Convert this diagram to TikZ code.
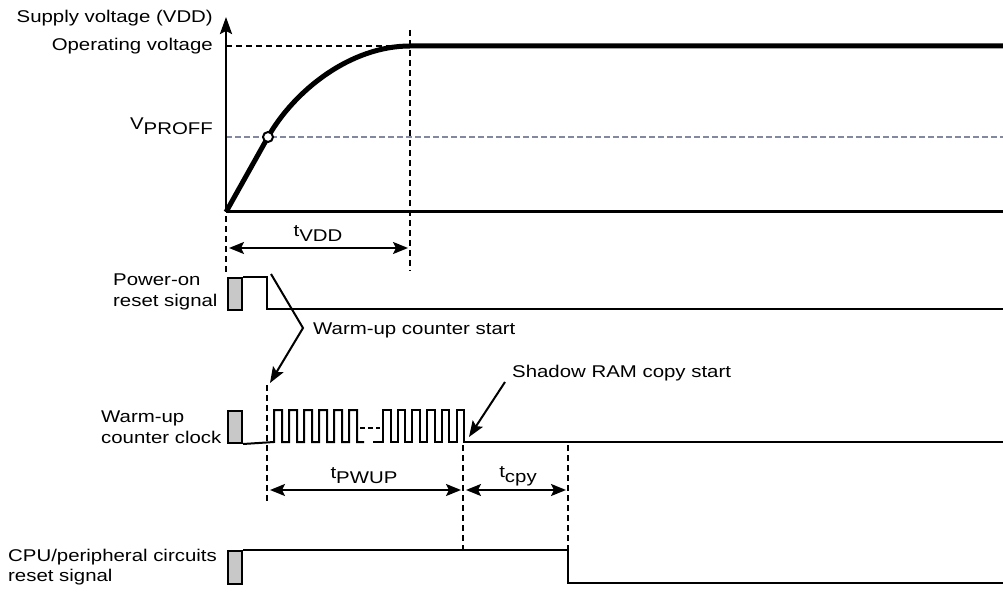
\documentclass[tikz,border=0pt]{standalone}
\usepackage{fontspec}
\setmainfont{Liberation Sans}[FakeStretch=1.2]
\usetikzlibrary{arrows.meta}
\definecolor{vprof}{RGB}{130,136,160}
\definecolor{boxgray}{RGB}{200,200,200}
\tikzset{
  lbl/.style={font=\fontsize{17pt}{20.5pt}\selectfont, inner sep=0pt},
  sig/.style={line width=2pt, line join=miter},
  gbox/.style={draw, line width=2pt, fill=boxgray},
  guide/.style={line width=1.8pt, dash pattern=on 6pt off 4pt},
  dim/.style={line width=2pt, {Stealth[length=15pt,width=12pt,inset=3pt]}-{Stealth[length=15pt,width=12pt,inset=3pt]}},
  callout/.style={line width=2pt, -{Stealth[length=16pt,width=12pt,inset=3pt]}},
}
\newcommand{\lowsub}[1]{\raisebox{-5pt}{#1}}
\begin{document}
\begin{tikzpicture}[x=1pt,y=-1pt]
\useasboundingbox (0,0) rectangle (1003,593);
% ---------- VDD plot ----------
\coordinate (O) at (226,212);
\coordinate (Ytop) at (226,17);
\coordinate (Xend) at (1003,212);
\coordinate (Vp) at (268,137);
\coordinate (Top) at (410,46);
\coordinate (TopEnd) at (1003,46);
\coordinate (OpL) at (226,46);
\coordinate (VpL) at (226,137);
\coordinate (VpR) at (1003,137);
\draw[guide, line width=1.5pt] (OpL) -- (Top);
\draw[vprof, line width=2.5pt, dash pattern=on 6pt off 3pt] (VpL) -- (VpR);
\draw[line width=2.5pt, -{Stealth[length=17pt,width=12pt,inset=3pt]}] (O) -- (Ytop);
\draw[line width=3pt] (O) -- (Xend);
\draw[line width=5pt, line cap=butt] (O) -- (Vp) .. controls (294,91) and (350,46) .. (Top) -- (TopEnd);
\node[circle, draw, line width=2pt, fill=white, minimum size=10pt, inner sep=0pt] (vpc) at (Vp) {};
\node[lbl, anchor=east] (ylab) at (213,18) {Supply voltage (VDD)};
\node[lbl, anchor=east] (oplab) at (213,46) {Operating voltage};
\node[lbl, anchor=east] (vplab) at (213,126) {V\lowsub{PROFF}};
% vertical guides
\coordinate (g1a) at (226,216); \coordinate (g1b) at (226,272);
\coordinate (g2a) at (410,30);  \coordinate (g2b) at (410,271);
\draw[guide] (g1a) -- (g1b);
\draw[guide] (g2a) -- (g2b);
\coordinate (tv1) at (229,248); \coordinate (tv2) at (408,248);
\draw[dim] (tv1) -- (tv2);
\node[lbl] (tvdd) at (318,234) {t\lowsub{VDD}};
% ---------- Power-on reset ----------
\node[gbox, anchor=north west, minimum width=14pt, minimum height=32pt, inner sep=0pt] (pobox) at (227,277) {};
\coordinate (po1) at (267,277); \coordinate (po2) at (267,309); \coordinate (po3) at (1003,309);
\draw[sig] (pobox.north east) -- (po1) -- (po2) -- (po3);
\node[lbl, anchor=west, align=left] (polab) at (113,292) {Power-on\\reset signal};
% callout warm-up counter start
\coordinate (c1) at (271,274); \coordinate (c2) at (303,328); \coordinate (c3) at (270,383);
\draw[callout] (c1) -- (c2) -- (c3);
\node[lbl, anchor=west] (wustart) at (313,330) {Warm-up counter start};
% ---------- Warm-up counter clock ----------
\node[gbox, anchor=north west, minimum width=14pt, minimum height=32pt, inner sep=0pt] (wubox) at (227,410) {};
\node[lbl, anchor=west, align=left] (wulab) at (101,427) {Warm-up\\counter clock};
\coordinate (w0) at (274,442);
\draw[sig] (wubox.south east) -- (w0)
  \foreach \i in {0,...,5} { -- ++(0,-32) -- ++(8,0) -- ++(0,32) -- ++(7,0) };
\coordinate (w1) at (373,442); \coordinate (w2) at (383,442); \coordinate (wend) at (1003,442);
\draw[sig] (w1) -- (w2)
  \foreach \i in {0,...,5} { -- ++(0,-32) -- ++(7.5,0) -- ++(0,32) -- ++(7.2,0) } -- (wend);
\coordinate (d1) at (360,428); \coordinate (d2) at (380,428);
\draw[line width=1.8pt, dash pattern=on 5pt off 3pt] (d1) -- (d2);
\coordinate (g3a) at (267,385); \coordinate (g3b) at (267,503);
\draw[guide] (g3a) -- (g3b);
% shadow RAM callout
\coordinate (s1) at (505,382); \coordinate (s2) at (469,437);
\draw[callout] (s1) -- (s2);
\node[lbl, anchor=west] (shadow) at (512,373) {Shadow RAM copy start};
% guides and dims
\coordinate (g4a) at (463,445); \coordinate (g4b) at (463,550);
\coordinate (g5a) at (568,445); \coordinate (g5b) at (568,550);
\draw[guide] (g4a) -- (g4b);
\draw[guide] (g5a) -- (g5b);
\coordinate (tp1) at (270,490); \coordinate (tp2) at (461,490);
\coordinate (tc1) at (466,490); \coordinate (tc2) at (566,490);
\draw[dim] (tp1) -- (tp2);
\draw[dim] (tc1) -- (tc2);
\node[lbl] (tpwup) at (364,476) {t\lowsub{PWUP}};
\node[lbl] (tcpy) at (518,476) {t\lowsub{cpy}};
% ---------- CPU reset ----------
\node[gbox, anchor=north west, minimum width=14pt, minimum height=33pt, inner sep=0pt] (cpubox) at (227,550) {};
\coordinate (cp1) at (568,550); \coordinate (cp2) at (568,583); \coordinate (cp3) at (1003,583);
\draw[sig] (cpubox.north east) -- (cp1) -- (cp2) -- (cp3);
\node[lbl, anchor=west, align=left] (cpulab) at (8,567) {CPU/peripheral circuits\\reset signal};
\end{tikzpicture}
\end{document}
